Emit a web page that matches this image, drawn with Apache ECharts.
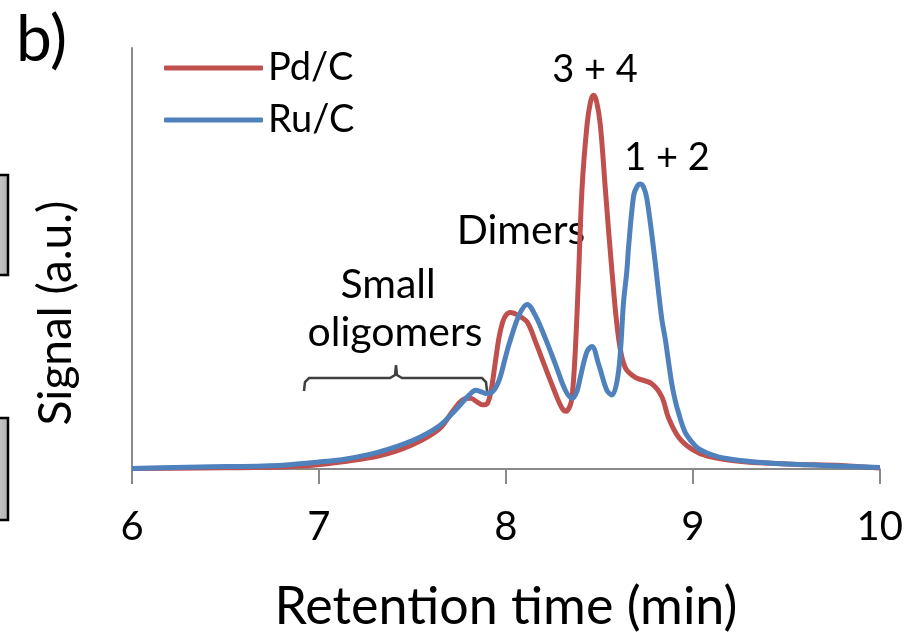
<!DOCTYPE html>
<html>
<head>
<meta charset="utf-8">
<script src="https://cdn.jsdelivr.net/npm/echarts@6/dist/echarts.min.js"></script>
<style>
html,body{margin:0;padding:0;background:#fff;}
#chart{width:906px;height:638px;}
</style>
</head>
<body>
<div id="chart"></div>
<script>
// Retention time (min) and signal (a.u.)
const pdTime = [6.000,6.363,6.789,6.992,7.323,7.500,7.643,7.714,7.767,7.812,7.845,7.874,7.899,7.920,7.945,7.963,7.981,7.998,8.025,8.069,8.114,8.158,8.211,8.265,8.299,8.320,8.345,8.357,8.372,8.389,8.407,8.434,8.453,8.469,8.485,8.505,8.532,8.567,8.603,8.638,8.692,8.780,8.834,8.869,8.923,8.994,9.083,9.260,9.527,9.794,10.000];
const pdSignal = [0.005,0.010,0.020,0.043,0.137,0.250,0.410,0.590,0.710,0.727,0.690,0.660,0.670,0.800,1.120,1.350,1.500,1.577,1.610,1.577,1.510,1.310,1.043,0.777,0.630,0.593,0.660,0.800,1.240,2.000,2.877,3.540,3.780,3.843,3.780,3.540,2.877,2.040,1.340,1.043,0.943,0.877,0.743,0.530,0.330,0.205,0.130,0.077,0.050,0.037,0.010];
const ruTime = [6.000,6.363,6.789,6.992,7.145,7.323,7.500,7.643,7.732,7.803,7.839,7.870,7.892,7.927,7.963,7.998,8.016,8.069,8.114,8.158,8.211,8.265,8.318,8.354,8.380,8.398,8.434,8.460,8.496,8.540,8.567,8.603,8.629,8.647,8.656,8.683,8.700,8.718,8.736,8.754,8.789,8.834,8.852,8.887,8.905,8.923,8.958,8.994,9.029,9.083,9.136,9.190,9.349,9.616,10.000];
const ruSignal = [0.005,0.020,0.037,0.070,0.103,0.177,0.293,0.443,0.610,0.760,0.810,0.793,0.777,0.793,0.910,1.153,1.277,1.577,1.693,1.577,1.343,1.077,0.810,0.727,0.800,0.943,1.210,1.260,1.077,0.810,0.760,1.010,1.710,2.040,2.280,2.810,2.900,2.930,2.900,2.780,2.280,1.540,1.340,0.880,0.710,0.580,0.380,0.280,0.210,0.160,0.125,0.105,0.070,0.043,0.015];
const seriesNames = ['Pd/C', 'Ru/C'];
const xTicks = [6, 7, 8, 9, 10];
const annotations = ['3 + 4', '1 + 2', 'Dimers', 'Small', 'oligomers'];
const yTitle = 'Signal (a.u.)';
const xTitle = 'Retention time (min)';

const FONT = 'Lato';
const chart = echarts.init(document.getElementById('chart'), null, {renderer: 'canvas'});
const pair = (xs, ys) => xs.map((x, i) => [x, ys[i]]);
const boxFill = {type: 'linear', x: 0, y: 0, x2: 1, y2: 0, colorStops: [{offset: 0, color: '#ffffff'}, {offset: 1, color: '#b0b0b0'}]};

chart.setOption({
  animation: false,
  backgroundColor: '#ffffff',
  grid: {left: 132, right: 24, top: 48, bottom: 157, containLabel: false},
  legend: {
    data: seriesNames,
    orient: 'vertical',
    left: 159, top: 44,
    itemWidth: 99, itemHeight: 5, itemGap: 14,
    icon: 'roundRect',
    textStyle: {fontFamily: FONT, fontSize: 38, color: '#000', lineHeight: 38}
  },
  xAxis: {
    type: 'value', min: xTicks[0], max: xTicks[xTicks.length - 1], interval: 1,
    name: xTitle, nameLocation: 'middle', nameGap: 112,
    nameTextStyle: {fontFamily: FONT, fontSize: 52, color: '#000'},
    axisLine: {show: true, lineStyle: {color: '#8a8a8a', width: 2}},
    axisTick: {show: true, length: 15, lineStyle: {color: '#8a8a8a', width: 2}},
    axisLabel: {fontFamily: FONT, fontSize: 40, color: '#000', margin: 38},
    splitLine: {show: false}
  },
  yAxis: {
    type: 'value', min: 0, max: 4.33,
    axisLine: {show: true, lineStyle: {color: '#8a8a8a', width: 2}},
    axisTick: {show: false}, axisLabel: {show: false}, splitLine: {show: false}
  },
  series: [
    {name: seriesNames[0], type: 'line', data: pair(pdTime, pdSignal), smooth: 0.35,
     showSymbol: false, symbol: 'none', z: 2,
     lineStyle: {color: '#c0504d', width: 5}, itemStyle: {color: '#c0504d'}},
    {name: seriesNames[1], type: 'line', data: pair(ruTime, ruSignal), smooth: 0.35,
     showSymbol: false, symbol: 'none', z: 3,
     lineStyle: {color: '#4f81bd', width: 5}, itemStyle: {color: '#4f81bd'}}
  ],
  graphic: [
    {type: 'text', left: 16, top: 8, style: {text: 'b)', fontFamily: FONT, fontSize: 64, fill: '#000'}},
    {type: 'text', x: 56, y: 313, rotation: Math.PI / 2,
     style: {text: yTitle, fontFamily: FONT, fontSize: 46, fill: '#000', textAlign: 'center', textVerticalAlign: 'middle'}},
    {type: 'rect', shape: {x: -30, y: 175, width: 38, height: 100},
     style: {fill: boxFill, stroke: '#000', lineWidth: 2.5}},
    {type: 'rect', shape: {x: -30, y: 418, width: 38, height: 102},
     style: {fill: boxFill, stroke: '#000', lineWidth: 2.5}},
    {type: 'text', x: 595, y: 70, style: {text: annotations[0], fontFamily: FONT, fontSize: 38, fill: '#000', textAlign: 'center', textVerticalAlign: 'middle'}},
    {type: 'text', x: 667, y: 158, style: {text: annotations[1], fontFamily: FONT, fontSize: 38, fill: '#000', textAlign: 'center', textVerticalAlign: 'middle'}},
    {type: 'text', x: 521, y: 231, style: {text: annotations[2], fontFamily: FONT, fontSize: 41, fill: '#000', textAlign: 'center', textVerticalAlign: 'middle'}},
    {type: 'text', x: 388, y: 285, style: {text: annotations[3], fontFamily: FONT, fontSize: 41, fill: '#000', textAlign: 'center', textVerticalAlign: 'middle'}},
    {type: 'text', x: 395, y: 333, style: {text: annotations[4], fontFamily: FONT, fontSize: 41, fill: '#000', textAlign: 'center', textVerticalAlign: 'middle'}},
    {type: 'polyline', shape: {points: [[304,391],[305,382],[309,378],[390,378],[395,375],[396,365],[397,375],[402,378],[482,378],[486,382],[487,391]]},
     style: {stroke: '#404040', lineWidth: 2.5, fill: null}}
  ]
});
</script>
</body>
</html>
